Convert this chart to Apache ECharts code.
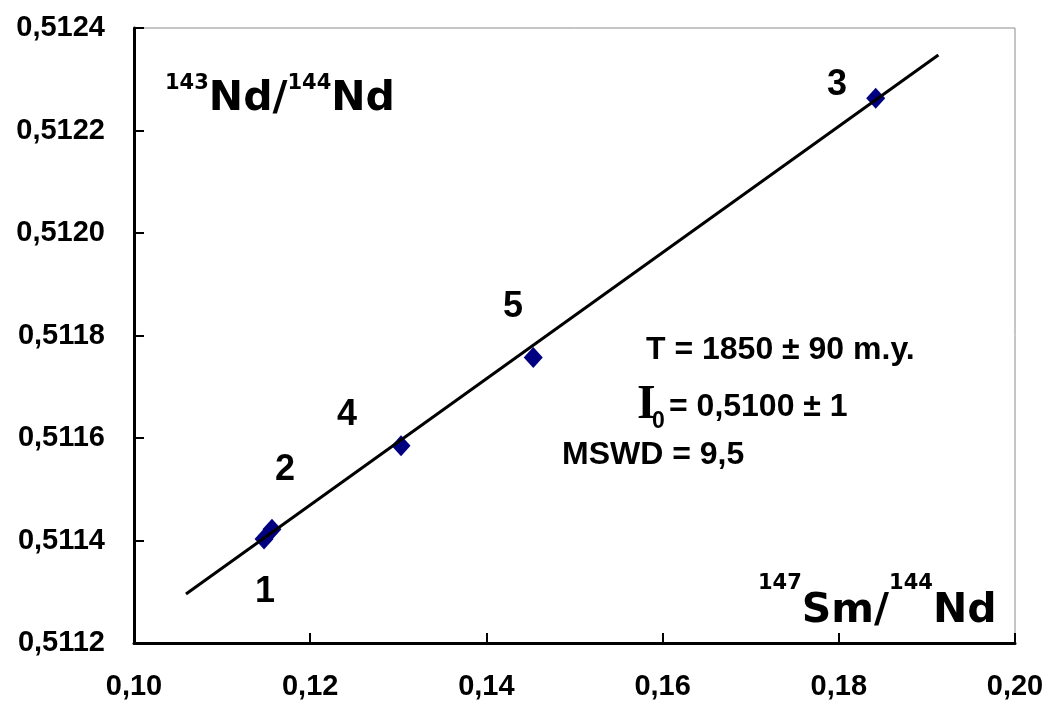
<!DOCTYPE html>
<html>
<head>
<meta charset="utf-8">
<script src="https://cdn.jsdelivr.net/npm/echarts@6/dist/echarts.min.js"></script>
<style>
html,body{margin:0;padding:0;background:#fff;}
#chart{width:1050px;height:708px;}
</style>
</head>
<body>
<div id="chart"></div>
<script>
// Sample points: 147Sm/144Nd (x) and 143Nd/144Nd (y)
var sampleNames = ['1', '2', '3', '4', '5'];
var smNd = [0.11476, 0.11566, 0.18419, 0.13031, 0.14532];
var ndNd = [0.511403, 0.511422, 0.512263, 0.511585, 0.511757];

// Isochron line end points
var isoX = [0.1059, 0.1913];
var isoY = [0.5112956, 0.5123473];

// Positions of the sample number labels (data coordinates)
var labelX = [0.11487, 0.11714, 0.17980, 0.12418, 0.14302];
var labelY = [0.5112995, 0.5115376, 0.5122888, 0.511645, 0.511856];

// Axis ranges / ticks
var xMin = 0.10, xMax = 0.20, xStep = 0.02;
var yMin = 0.5112, yMax = 0.5124, yStep = 0.0002;

var chart = echarts.init(document.getElementById('chart'));

var pts = smNd.map(function (x, i) { return { value: [x, ndNd[i]], name: sampleNames[i] }; });
var labs = labelX.map(function (x, i) { return { value: [x, labelY[i]], name: sampleNames[i] }; });
var line = isoX.map(function (x, i) { return [x, isoY[i]]; });

var SANS = '"Liberation Sans", Arial, sans-serif';
var WIDE = '"DejaVu Sans", "Liberation Sans", sans-serif';

chart.setOption({
  animation: false,
  backgroundColor: '#ffffff',
  grid: {
    left: 134, right: 35, top: 28, bottom: 65,
    show: true, borderColor: '#8c8c8c', borderWidth: 1, backgroundColor: 'transparent'
  },
  xAxis: {
    type: 'value', min: xMin, max: xMax, interval: xStep,
    axisLine: { show: true, onZero: false, lineStyle: { color: '#000', width: 3 } },
    axisTick: { show: true, inside: true, length: 10, lineStyle: { color: '#000', width: 2 } },
    splitLine: { show: false },
    axisLabel: {
      margin: 29, color: '#000', fontSize: 29, fontWeight: 'bold', fontFamily: SANS,
      formatter: function (v) { return v.toFixed(2).replace('.', ','); }
    }
  },
  yAxis: {
    type: 'value', min: yMin, max: yMax, interval: yStep,
    axisLine: { show: true, onZero: false, lineStyle: { color: '#000', width: 3 } },
    axisTick: { show: true, inside: true, length: 10, lineStyle: { color: '#000', width: 2 } },
    splitLine: { show: false },
    axisLabel: {
      margin: 29, color: '#000', fontSize: 29, fontWeight: 'bold', fontFamily: SANS,
      formatter: function (v) { return v.toFixed(4).replace('.', ','); }
    }
  },
  series: [
    {
      type: 'scatter', data: pts, symbol: 'diamond', symbolSize: [19, 21],
      itemStyle: { color: '#000080', opacity: 1 }, z: 2
    },
    {
      type: 'line', data: line, symbol: 'none', z: 3,
      lineStyle: { color: '#000', width: 3 }
    },
    {
      type: 'scatter', data: labs, symbolSize: 0, z: 4,
      itemStyle: { color: 'rgba(0,0,0,0)', opacity: 1 },
      label: {
        show: true, position: 'inside', formatter: '{b}', opacity: 1,
        color: '#000', fontSize: 36, fontWeight: 'bold', fontFamily: SANS
      }
    }
  ],
  graphic: [
    {
      type: 'text', left: 165, top: 72.8, z: 10,
      style: {
        text: '{s|143}{b|Nd/}{s|144}{b|Nd}',
        rich: {
          s: { fontSize: 21, fontWeight: 'bold', fontFamily: WIDE, color: '#000', verticalAlign: 'top', height: 12, lineHeight: 12 },
          b: { fontSize: 41, fontWeight: 'bold', fontFamily: WIDE, color: '#000', lineHeight: 44 }
        }
      }
    },
    {
      type: 'text', left: 758, top: 572.8, z: 10,
      style: {
        text: '{s|147}{b|Sm/}{s|144}{b|Nd}',
        rich: {
          s: { fontSize: 21, fontWeight: 'bold', fontFamily: WIDE, color: '#000', verticalAlign: 'top', height: 14, lineHeight: 14 },
          b: { fontSize: 41, fontWeight: 'bold', fontFamily: WIDE, color: '#000', lineHeight: 70 }
        }
      }
    },
    {
      type: 'text', z: 10,
      style: { x: 646, y: 350.5, text: 'T = 1850 ± 90 m.y.', font: 'bold 32px ' + SANS, fill: '#000',
        textAlign: 'left', align: 'left', textVerticalAlign: 'middle', verticalAlign: 'middle' }
    },
    {
      type: 'text', z: 10,
      style: { x: 637, y: 405.8, text: 'I', font: 'bold 48px "Liberation Serif", "Times New Roman", serif', fill: '#000',
        textAlign: 'left', align: 'left', textVerticalAlign: 'middle', verticalAlign: 'middle' }
    },
    {
      type: 'text', z: 10,
      style: { x: 652, y: 421.7, text: '0', font: 'bold 23px ' + SANS, fill: '#000',
        textAlign: 'left', align: 'left', textVerticalAlign: 'middle', verticalAlign: 'middle' }
    },
    {
      type: 'text', z: 10,
      style: { x: 669, y: 406.9, text: '= 0,5100 ± 1', font: 'bold 32px ' + SANS, fill: '#000',
        textAlign: 'left', align: 'left', textVerticalAlign: 'middle', verticalAlign: 'middle' }
    },
    {
      type: 'text', z: 10,
      style: { x: 562, y: 455, text: 'MSWD = 9,5', font: 'bold 32px ' + SANS, fill: '#000',
        textAlign: 'left', align: 'left', textVerticalAlign: 'middle', verticalAlign: 'middle' }
    }
  ]
});
</script>
</body>
</html>
